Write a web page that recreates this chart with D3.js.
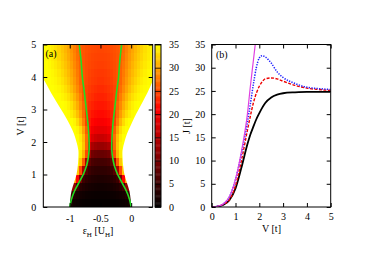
<!DOCTYPE html>
<html><head><meta charset="utf-8">
<script src="https://cdn.jsdelivr.net/npm/d3@7"></script>
<style>
body{margin:0;background:#fff}
svg{display:block}
text{font-family:"Liberation Serif","Times New Roman",serif;font-size:10px;fill:#000}
</style>
</head><body>
<svg id="c" width="374" height="262"></svg>
<script>
// ================= DATA =================
// Panel (a): heat map J(eps_H, V). Symmetric about eps_H = -0.5; columns are distance d = |eps_H + 0.5|
const vBandLow = [0,0.25,0.5,0.75,1,1.25,1.5,1.75,2,2.25,2.5,2.75,3,3.25,3.5,3.75,4,4.25,4.5,4.75];
const vBandWidth = 0.25;
const dBandLow = [0,0.05,0.1,0.15,0.2,0.25,0.3,0.35,0.4,0.45,0.5,0.55,0.6,0.65,0.7,0.75,0.8,0.85,0.9];
const dBandWidth = 0.05;
const heatJ = [
  [0.4,0.4,0.4,0.5,0.5,0.6,0.7,0.9,1.2,2.0],
  [0.8,0.8,0.9,1.0,1.1,1.3,1.6,2.0,2.8,5.0],
  [1.5,1.6,1.7,1.9,2.2,2.6,3.3,5,12],
  [2.5,2.6,2.8,3.2,3.8,5,10,21,30],
  [3.8,3.9,4.2,4.9,7,14,25,32],
  [5.5,5.7,6.2,8,14,26,32,34.5],
  [8.5,8.8,9.5,13,25,31,34,35],
  [12.5,13,14,17,27,32,34.5,35],
  [16.5,17,18,20.5,27,31.5,34,35,35],
  [19,19.3,20,21.5,26,30,33,34.5,35,35],
  [20.5,20.8,21.3,22.3,24.5,28,31,33,34.5,35,35],
  [21.5,21.7,22.1,22.8,24,27,29.5,31.5,33,34,34.8,35],
  [22.2,22.4,22.8,23.3,24.3,26.5,28.5,30.5,32,33.3,34.2,34.8,35,35],
  [22.8,23,23.4,23.8,24.5,25.8,27.8,29.5,31,32.3,33.3,34,34.5,34.9,35],
  [23.3,23.5,23.8,24.2,24.7,25.5,27,28.6,30,31.3,32.4,33.3,34,34.5,34.8,35,35],
  [23.8,24,24.2,24.5,25,25.5,26.5,28,29.4,30.6,31.7,32.6,33.4,34,34.5,34.8,35,35],
  [24.1,24.2,24.4,24.7,25.1,25.6,26.5,27.7,29,30.2,31.2,32.1,32.9,33.6,34.2,34.6,34.9,35,35],
  [24.4,24.5,24.7,24.9,25.2,25.6,26.3,27.4,28.6,29.8,30.8,31.7,32.5,33.2,33.8,34.3,34.7,35,35],
  [24.6,24.7,24.8,25,25.3,25.6,26.2,27.1,28.3,29.4,30.4,31.3,32.1,32.8,33.5,34,34.5,34.8,35],
  [24.8,24.9,25,25.2,25.4,25.7,26.1,26.9,28,29.1,30.1,31,31.8,32.6,33.3,33.9,34.4,34.8,35]
];
// outer boundary of the coloured region (white outside), in eps_H
const edgeV     = [0,0.25,0.5,0.75,1,1.25,1.5,1.75,2,2.25,2.5,2.75,3,3.25,3.5,3.75,4,4.25];
const edgeLeft  = [-1.0,-0.99,-0.97,-0.93,-0.89,-0.87,-0.86,-0.86,-0.89,-0.93,-0.99,-1.06,-1.14,-1.22,-1.30,-1.37,-1.45,-1.52];
const edgeRight = [0.0,-0.01,-0.03,-0.07,-0.11,-0.13,-0.14,-0.14,-0.11,-0.07,-0.01,0.05,0.12,0.19,0.26,0.32,0.38,0.44];
// green contour lines (symmetric about eps_H = -0.5)
const greenV = [0,0.25,0.5,0.75,1,1.25,1.5,1.75,2,2.5,3,3.5,4,4.5,5];
const greenD = [0.5,0.47,0.42,0.35,0.28,0.23,0.2,0.185,0.185,0.2,0.23,0.26,0.295,0.315,0.345];
const epsTicks = [-1,-0.5,0];
const vTicksA = [0,1,2,3,4,5];
const cbTicks = [0,5,10,15,20,25,30,35];

// Panel (b): J vs V
const curveV  = [0,0.25,0.5,0.75,1,1.25,1.5,1.625,1.75,1.875,2,2.125,2.25,2.5,2.75,3,3.5,4,4.5,5];
const jBlack  = [0,0.1,0.5,1.5,4,8.5,13.5,15.6,17.3,18.9,20.2,21.4,22.4,23.6,24.2,24.5,24.7,24.8,24.8,24.8];
const jRed    = [0,0.12,0.6,1.6,4.6,10,16.5,19.6,22.4,24.5,26.0,27.0,27.6,27.8,27.6,27.1,26.2,25.6,25.3,25.1];
const jBlue   = [0,0.15,0.7,2.2,5.9,11.5,18.3,22.2,26.4,30.0,32.1,32.6,32.3,31.0,29.1,27.9,26.6,25.8,25.5,25.3];
const magV    = [0,0.25,0.5,0.75,1,1.25,1.5,1.625,1.75,1.875];
const magJ    = [0,0.15,0.7,2.3,6,12,20,26,31.5,37];
const vTicksB = [0,1,2,3,4,5];
const jTicks  = [0,5,10,15,20,25,30,35];

// ================= DRAW =================
const svg = d3.select("#c");
const yTop = 44.5, yBot = 207;
const xA = d3.scaleLinear().domain([-1.43, 0.35]).range([43.3, 152.7]);
const yA = d3.scaleLinear().domain([0, 5]).range([yBot, yTop]);
const cbX0 = 155, cbX1 = 161;
const cbY = d3.scaleLinear().domain([0, 35]).range([yBot, yTop]);
const color = d3.scaleLinear().domain([0, 21, 35]).range(["#000000", "#ff0000", "#ffff00"]).clamp(true);

const xB = d3.scaleLinear().domain([0, 5]).range([211.7, 330.7]);
const yB = d3.scaleLinear().domain([0, 35]).range([yBot, yTop]);

const defs = svg.append("defs");
defs.append("clipPath").attr("id", "clipA").append("rect")
  .attr("x", xA.range()[0]).attr("y", yTop).attr("width", xA.range()[1] - xA.range()[0]).attr("height", yBot - yTop);
defs.append("clipPath").attr("id", "clipB").append("rect")
  .attr("x", xB.range()[0]).attr("y", yTop).attr("width", xB.range()[1] - xB.range()[0]).attr("height", yBot - yTop);

// ---- heat map cells ----
const cells = [];
heatJ.forEach((row, i) => {
  const v0 = vBandLow[i], v1 = v0 + vBandWidth;
  row.forEach((val, k) => {
    const d0 = dBandLow[k];
    const d1 = (k === row.length - 1) ? 1.0 : d0 + dBandWidth;
    cells.push({e0: -0.5 - d1, e1: -0.5 - d0, v0, v1, val});
    cells.push({e0: -0.5 + d0, e1: -0.5 + d1, v0, v1, val});
  });
});
const gA = svg.append("g").attr("clip-path", "url(#clipA)");
gA.selectAll("rect.cell").data(cells).join("rect").attr("class", "cell")
  .attr("shape-rendering", "crispEdges")
  .attr("x", d => Math.round(xA(d.e0)))
  .attr("width", d => Math.max(1, Math.round(xA(d.e1)) - Math.round(xA(d.e0))))
  .attr("y", d => Math.round(yA(d.v1)))
  .attr("height", d => Math.round(yA(d.v0)) - Math.round(yA(d.v1)))
  .attr("fill", d => color(d.val));

// white outside the boundary
const edgePts = edgeV.map((v, i) => ({v, l: edgeLeft[i], r: edgeRight[i]}));
const maskL = d3.area().curve(d3.curveCatmullRom).y(p => yA(p.v))
  .x0(xA.range()[0] - 2).x1(p => xA(p.l));
const maskR = d3.area().curve(d3.curveCatmullRom).y(p => yA(p.v))
  .x0(p => xA(p.r)).x1(xA.range()[1] + 2);
gA.append("path").attr("d", maskL(edgePts)).attr("fill", "#fff");
gA.append("path").attr("d", maskR(edgePts)).attr("fill", "#fff");

// green contour lines
const greenPts = greenV.map((v, i) => ({v, d: greenD[i]}));
const lineA = side => d3.line().curve(d3.curveCatmullRom)
  .x(p => xA(-0.5 + side * p.d)).y(p => yA(p.v));
[-1, 1].forEach(s => gA.append("path").attr("d", lineA(s)(greenPts))
  .attr("fill", "none").attr("stroke", "#22dd22").attr("stroke-width", 1.6));

// frame + ticks panel a
function styleAxis(g) { g.select(".domain").remove(); g.selectAll(".tick line").attr("stroke", "#000"); g.selectAll("text").attr("fill", "#000").style("font-size", "10px"); }
const fmt = d => String(d);
svg.append("g").attr("transform", `translate(0,${yBot})`)
  .call(d3.axisBottom(xA).tickValues(epsTicks).tickFormat(fmt).tickSize(-4).tickPadding(8)).call(styleAxis);
svg.append("g").attr("transform", `translate(0,${yTop})`)
  .call(d3.axisTop(xA).tickValues(epsTicks).tickFormat("").tickSize(-4)).call(styleAxis);
svg.append("g").attr("transform", `translate(${xA.range()[0]},0)`)
  .call(d3.axisLeft(yA).tickValues(vTicksA).tickFormat(fmt).tickSize(-4).tickPadding(7)).call(styleAxis);
svg.append("g").attr("transform", `translate(${xA.range()[1]},0)`)
  .call(d3.axisRight(yA).tickValues(vTicksA).tickFormat("").tickSize(-4)).call(styleAxis);
svg.append("rect").attr("x", xA.range()[0]).attr("y", yTop)
  .attr("width", xA.range()[1] - xA.range()[0]).attr("height", yBot - yTop)
  .attr("fill", "none").attr("stroke", "#000").attr("stroke-width", 1);

// colorbar
const cbSteps = d3.range(0, 35, 0.25);
svg.append("g").selectAll("rect").data(cbSteps).join("rect")
  .attr("x", cbX0).attr("width", cbX1 - cbX0)
  .attr("y", d => cbY(d + 0.25) - 0.2).attr("height", d => cbY(d) - cbY(d + 0.25) + 0.4)
  .attr("fill", d => color(d + 0.125));
const cbAx = svg.append("g").attr("transform", `translate(${cbX1},0)`)
  .call(d3.axisRight(cbY).tickValues(cbTicks).tickFormat(fmt).tickSize(-(cbX1 - cbX0)).tickPadding(8)).call(styleAxis);
cbAx.selectAll(".tick line").attr("stroke-width", 0.8);
svg.append("rect").attr("x", cbX0).attr("y", yTop).attr("width", cbX1 - cbX0).attr("height", yBot - yTop)
  .attr("fill", "none").attr("stroke", "#000").attr("stroke-width", 1);

// labels panel a
svg.append("text").attr("transform", "translate(24,126) rotate(-90)").attr("text-anchor", "middle").text("V [t]");
const xl = svg.append("text").attr("x", 98).attr("y", 234).attr("text-anchor", "middle");
xl.append("tspan").text("ε");
xl.append("tspan").attr("dy", 2.5).style("font-size", "7px").text("H");
xl.append("tspan").attr("dy", -2.5).text(" [U");
xl.append("tspan").attr("dy", 2.5).style("font-size", "7px").text("H");
xl.append("tspan").attr("dy", -2.5).text("]");
svg.append("text").attr("x", 45.5).attr("y", 57).text("(a)");

// ---- panel b ----
const gB = svg.append("g").attr("clip-path", "url(#clipB)");
const lineB = d3.line().curve(d3.curveMonotoneX).x(p => xB(p[0])).y(p => yB(p[1]));
const series = [
  {vs: curveV, js: jBlack, color: "#000000", w: 1.8, dash: null},
  {vs: curveV, js: jRed, color: "#ee0000", w: 1.4, dash: "3,1.5"},
  {vs: curveV, js: jBlue, color: "#1f1fff", w: 1.5, dash: "1.3,1.3"},
  {vs: magV, js: magJ, color: "#e040e0", w: 1.2, dash: null}
];
series.forEach(s => {
  gB.append("path").attr("d", lineB(s.vs.map((v, i) => [v, s.js[i]])))
    .attr("fill", "none").attr("stroke", s.color).attr("stroke-width", s.w)
    .attr("stroke-dasharray", s.dash);
});
svg.append("g").attr("transform", `translate(0,${yBot})`)
  .call(d3.axisBottom(xB).tickValues(vTicksB).tickFormat(fmt).tickSize(-4).tickPadding(6)).call(styleAxis);
svg.append("g").attr("transform", `translate(0,${yTop})`)
  .call(d3.axisTop(xB).tickValues(vTicksB).tickFormat("").tickSize(-4)).call(styleAxis);
svg.append("g").attr("transform", `translate(${xB.range()[0]},0)`)
  .call(d3.axisLeft(yB).tickValues(jTicks).tickFormat(fmt).tickSize(-4).tickPadding(6.5)).call(styleAxis);
svg.append("g").attr("transform", `translate(${xB.range()[1]},0)`)
  .call(d3.axisRight(yB).tickValues(jTicks).tickFormat("").tickSize(-4)).call(styleAxis);
svg.append("rect").attr("x", xB.range()[0]).attr("y", yTop)
  .attr("width", xB.range()[1] - xB.range()[0]).attr("height", yBot - yTop)
  .attr("fill", "none").attr("stroke", "#000").attr("stroke-width", 1);
svg.append("text").attr("transform", "translate(190,126) rotate(-90)").attr("text-anchor", "middle").text("J [t]");
svg.append("text").attr("x", 271.5).attr("y", 232).attr("text-anchor", "middle").text("V [t]");
svg.append("text").attr("x", 216).attr("y", 58).text("(b)");
</script>
</body></html>
